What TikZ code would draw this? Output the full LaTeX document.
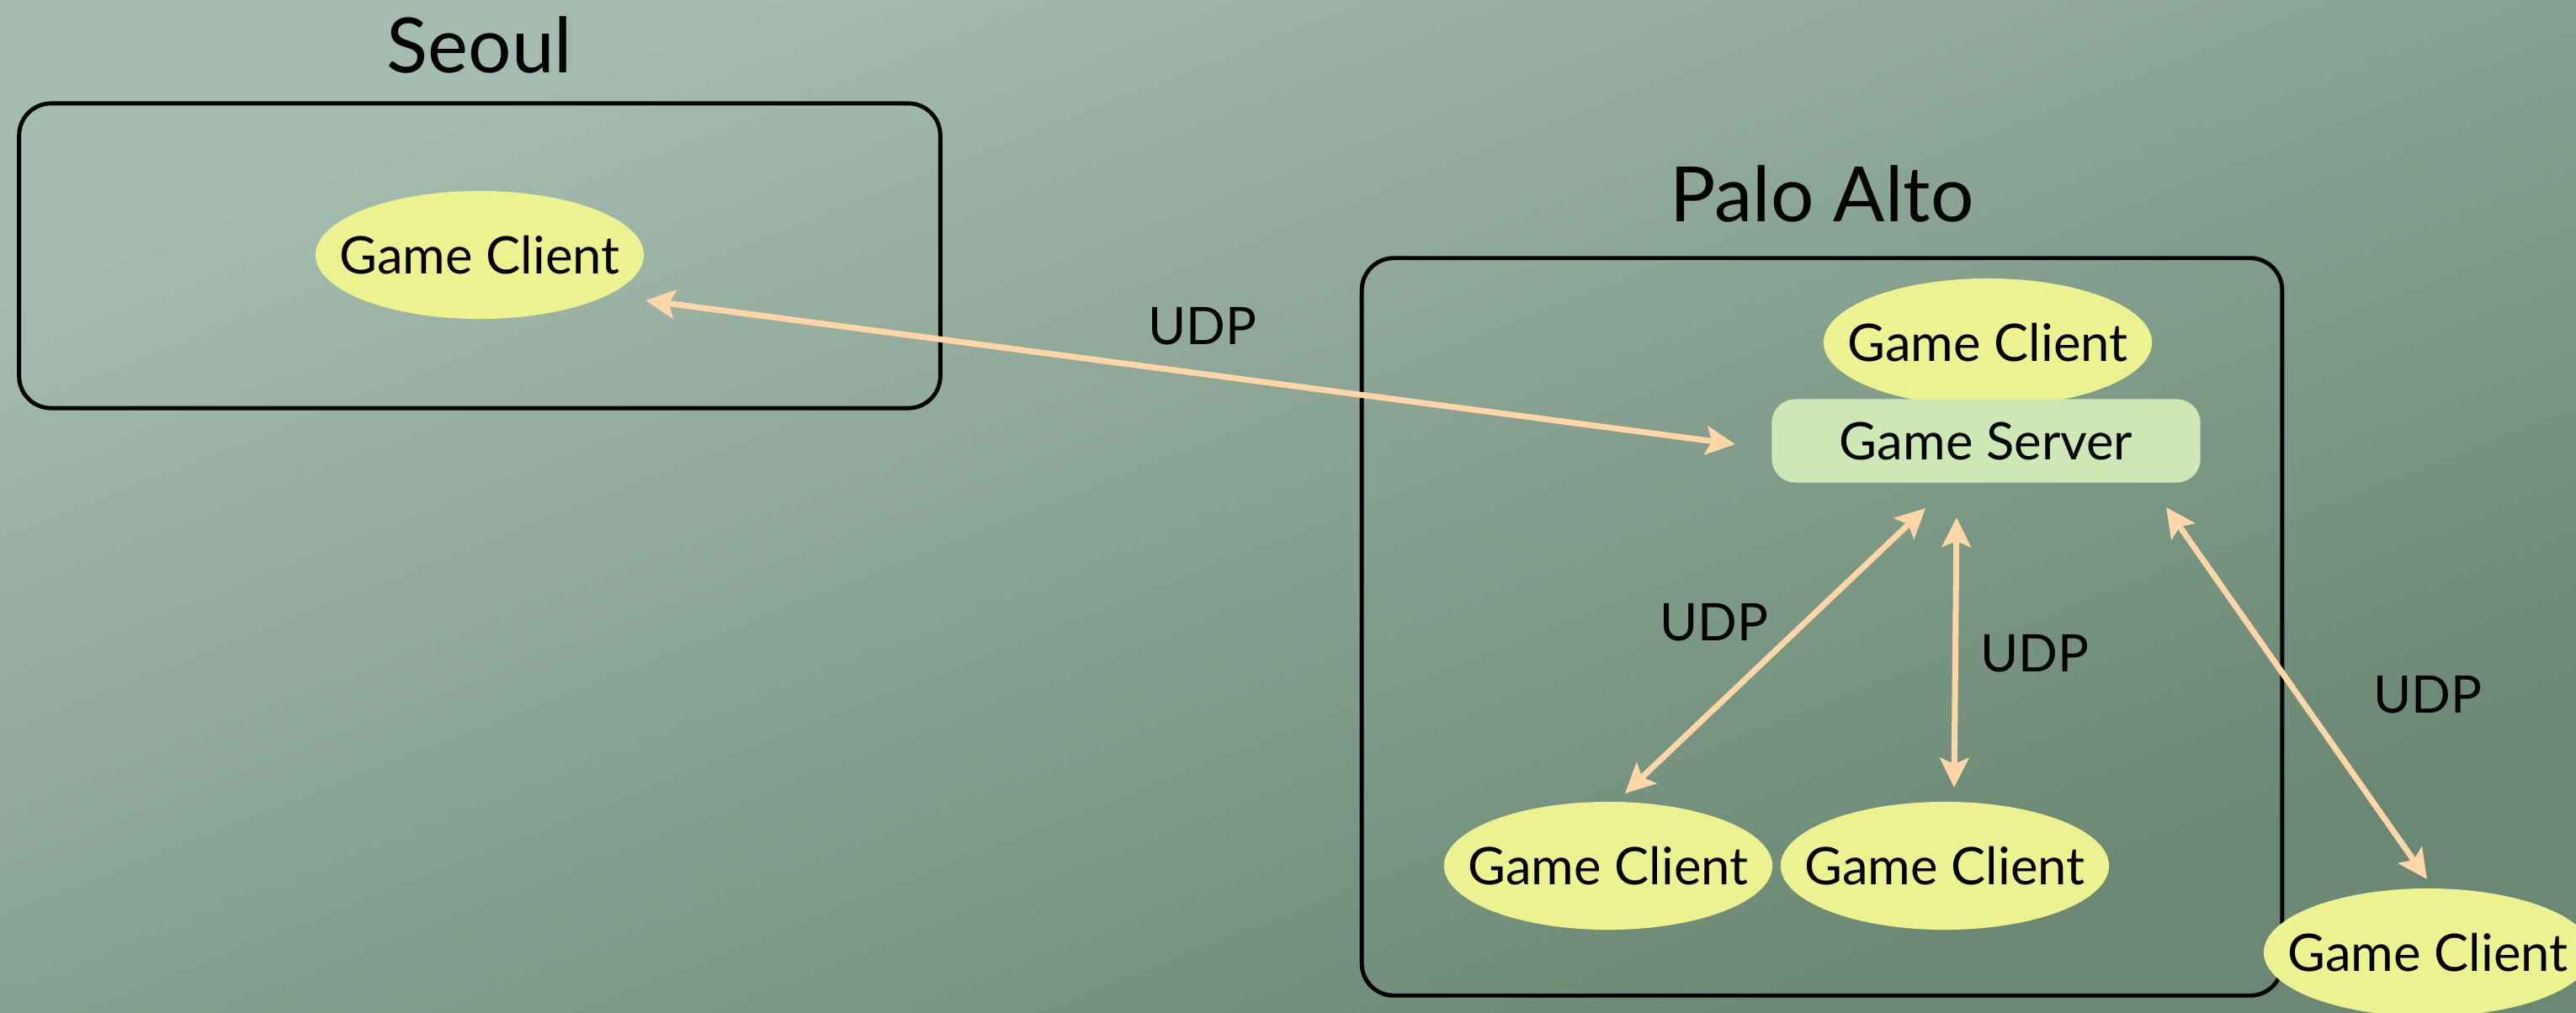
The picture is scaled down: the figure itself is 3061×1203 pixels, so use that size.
\documentclass[tikz,border=0pt]{standalone}
\usepackage{fontspec}
\setmainfont{Lato}
\usetikzlibrary{shapes.geometric,arrows.meta}

\definecolor{bgtop}{RGB}{164,187,175}
\definecolor{bgbottom}{RGB}{106,136,116}
\definecolor{clientfill}{RGB}{236,242,143}
\definecolor{serverfill}{RGB}{205,232,181}
\definecolor{linkcolor}{RGB}{255,214,165}

\newcommand{\hostname}[1]{\makebox[0pt]{#1}}

\tikzset{
  region/.style={draw=black, line width=1.4pt, rounded corners=0.38cm, inner sep=0pt},
  placetitle/.style={font=\fontsize{25.8}{30}\selectfont, inner sep=0pt},
  client/.style={ellipse, fill=clientfill, minimum width=3.9cm, minimum height=1.52cm,
    inner sep=0pt, font=\fontsize{17.5}{21}\selectfont, text height=0.44cm, text depth=0pt},
  server/.style={fill=serverfill, rounded corners=0.28cm, minimum width=5.09cm,
    minimum height=0.99cm, inner sep=0pt, font=\fontsize{17.5}{21}\selectfont,
    text height=0.44cm, text depth=0pt},
  udptext/.style={font=\fontsize{17.5}{21}\selectfont, inner sep=0pt,
    text height=0.44cm, text depth=0pt},
  udp/.style={draw=linkcolor, line width=2pt,
    >={Stealth[length=0.35cm,width=0.34cm,inset=0.07cm]}, <->},
}

\begin{document}
\begin{tikzpicture}[x=0.01cm, y=-0.01cm]
  % backdrop: diagonal gradient, shaded on a square and stretched to the full width
  \begin{scope}[transform canvas={xscale=2.5445}]
    \shade[top color=bgtop, bottom color=bgbottom, shading angle=45]
      (0,0) rectangle (1203,1203);
  \end{scope}
  \useasboundingbox (0,0) rectangle (3061,1203);

  % sites
  \node[region, minimum width=10.94cm, minimum height=3.62cm] (seoulbox) at (570,304) {};
  \node[placetitle, anchor=base] (seoultitle) at (570,87) {Seoul};
  \node[region, minimum width=10.93cm, minimum height=8.76cm] (paloaltobox) at (2165,745) {};
  \node[placetitle, anchor=base] (paloaltotitle) at (2165,263) {Palo Alto};

  % hosts
  \node[client] (seoulclient) at (570,303) {\hostname{Game Client}};
  \node[client] (hostclient) at (2362,407) {\hostname{Game Client}};
  \node[server] (server) at (2360,524) {Game Server};
  \node[client] (lanclientA) at (1911,1029) {\hostname{Game Client}};
  \node[client] (lanclientB) at (2311,1029) {\hostname{Game Client}};
  \node[client] (remoteclient) at (2885,1132) {\hostname{Game Client}};

  % links
  \draw[udp] ([shift={(197,54)}]seoulclient.center) -- ([shift={(-298,4)}]server.center);
  \draw[udp] ([shift={(-72,80)}]server.center) -- ([shift={(20,-86)}]lanclientA.center);
  \draw[udp] ([shift={(-35,91)}]server.center) -- ([shift={(11,-93)}]lanclientB.center);
  \draw[udp] ([shift={(214,79)}]server.center) -- ([shift={(-1,-87)}]remoteclient.center);

  % link labels
  \node[udptext] (udpseoul) at (1429,387) {UDP};
  \node[udptext] (udplanA) at (2037,739) {UDP};
  \node[udptext] (udplanB) at (2418,776) {UDP};
  \node[udptext] (udpremote) at (2885,825) {UDP};
\end{tikzpicture}
\end{document}
